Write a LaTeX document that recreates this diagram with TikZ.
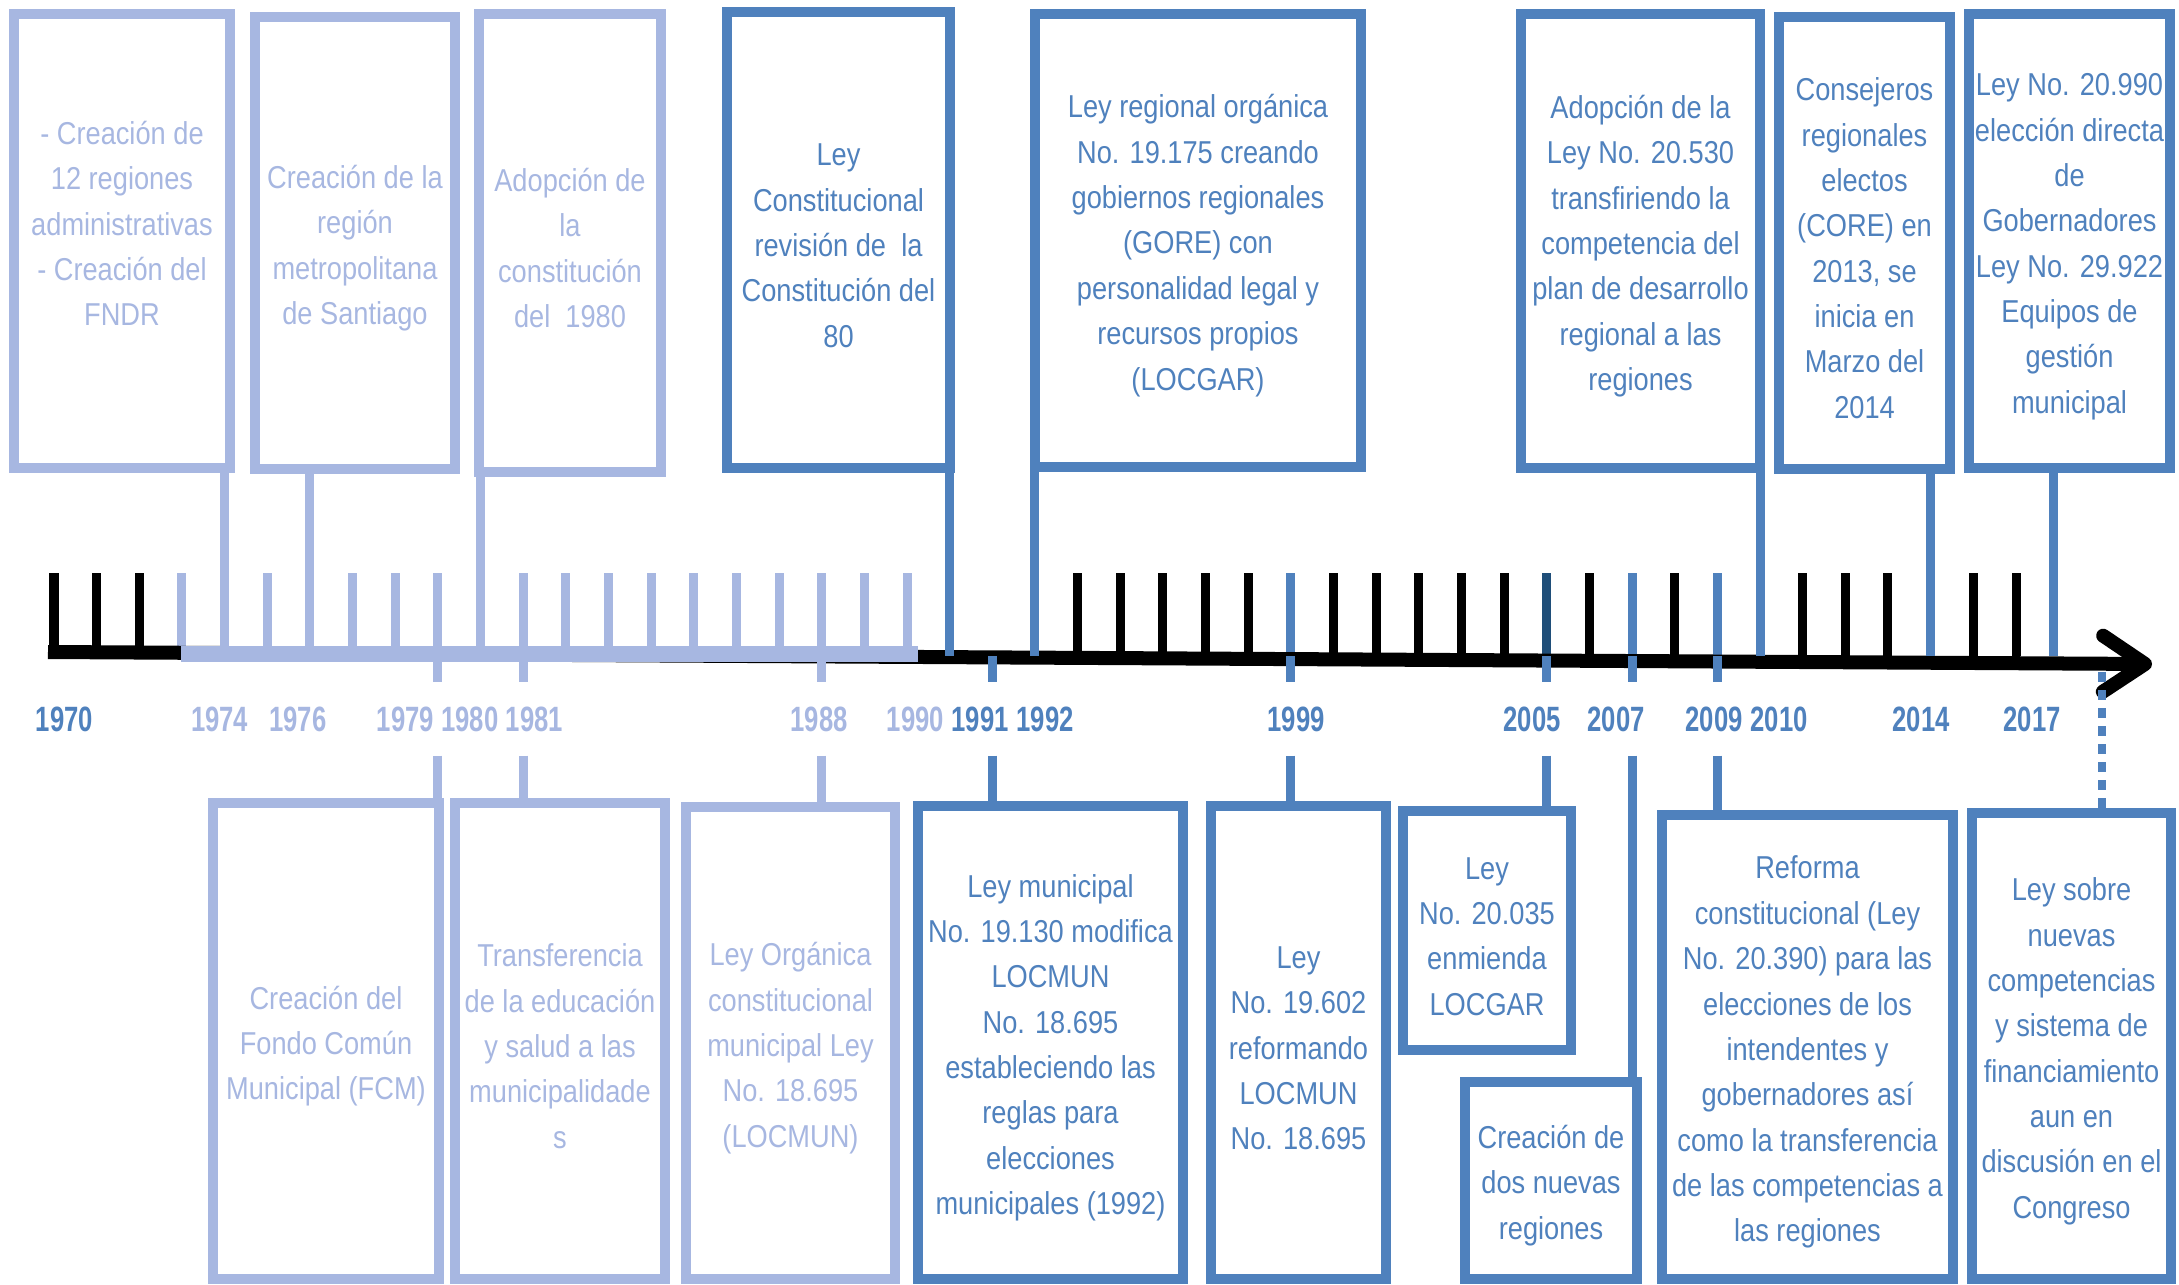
\documentclass[tikz,border=0pt]{standalone}
\usepackage{fontspec}
\setmainfont{Liberation Sans}[FakeStretch=0.86]
\newfontfamily\yearfont{Liberation Sans}[FakeStretch=0.73]
\usetikzlibrary{arrows.meta}
\definecolor{lightev}{HTML}{A7B7E1}
\definecolor{darkev}{HTML}{4F81BD}
\definecolor{navyev}{HTML}{1F4E79}

\begin{document}
\begin{tikzpicture}[x=0.01cm,y=-0.01cm]
  \tikzset{evbox/.style={draw,line width=0.1cm,align=center,inner sep=0pt,font=\fontsize{9}{12.9}\selectfont},
           oldev/.style={evbox,draw=lightev,text=lightev},
           newev/.style={evbox,draw=darkev,text=darkev},
           tk/.style={line width=0.09cm},
           yearlbl/.style={font=\yearfont\bfseries\fontsize{10}{11}\selectfont,inner xsep=0pt,inner ysep=0.235cm,text height=0.25cm,text depth=0pt}}
  \newcommand\evbox[7]{\node[#6,minimum width={(#3-#1-10)*0.01cm},minimum height={(#4-#2-10)*0.01cm}] (#5) at ({(#1+#3)/2},{(#2+#4)/2}) {\rule{0pt}{9.5pt}#7};}
  \useasboundingbox (0,0) rectangle (2179,1285);

  % ticks above the axis
  \foreach \i in {0,1,2,24,25,26,27,28,30,31,32,33,34,36,38,41,42,43,45}
    \draw[tk] ({54+42.65*\i},573) -- ({54+42.65*\i},656);
  \draw[tk] (2016,573) -- (2016,656);
  \foreach \i in {3,...,20}
    \draw[tk,lightev] ({54+42.65*\i},573) -- ({54+42.65*\i},656);
  \foreach \i in {29,37,39}
    \draw[tk,darkev] ({54+42.65*\i},573) -- ({54+42.65*\i},656);
  \draw[tk,navyev] ({54+42.65*35},573) -- ({54+42.65*35},656);

  % axis
  \draw[line width=0.14cm,-{Straight Barb[round,length=0.42cm,width=0.56cm]}] (48,652) -- (2152,664);
  \draw[lightev,line width=0.16cm] (181,654) -- (918,654);

  \foreach \nm/\i in {1974/4,1976/6,1979/9,1980/10,1981/11,1988/18,1990/21,1991/22,1992/23,
                      1999/29,2005/35,2007/37,2009/39,2010/40,2014/44}
    \coordinate (t\nm) at ({54+42.65*\i},656);
  \coordinate (t2017) at (2053,656);
  \coordinate (tnext) at (2102,672);

  % years
  \foreach \yr/\xx/\cl in {1970/64.5/darkev,1974/219.6/lightev,1976/298/lightev,1979/405.5/lightev,
                           1980/470/lightev,1981/534.5/lightev,1988/819/lightev,1990/915.5/lightev,
                           1991/980/darkev,1992/1045/darkev,1999/1296/darkev,2005/1532/darkev,
                           2007/1616/darkev,2009/1714/darkev,2010/1779/darkev,2014/1921/darkev,2017/2032/darkev}
    \node[yearlbl,text=\cl] (y\yr) at (\xx,719) {\yr};

  % boxes above
  \evbox{9}{9}{235}{473}{b1974}{oldev}{- Creación de\\12 regiones\\administrativas\\- Creación del\\FNDR\\\mbox{}}
  \evbox{250}{12}{460}{474}{b1976}{oldev}{Creación de la\\región\\metropolitana\\de Santiago}
  \evbox{474}{9}{666}{477}{b1980}{oldev}{Adopción de\\la\\constitución\\del \ 1980}
  \evbox{722}{7}{955}{473}{b1990}{newev}{Ley\\Constitucional\\revisión de \ la\\Constitución del\\80}
  \evbox{1030}{9}{1366}{472}{b1992}{newev}{Ley regional orgánica\\No. 19.175 creando\\gobiernos regionales\\(GORE) con\\personalidad legal y\\recursos propios\\(LOCGAR)}
  \evbox{1516}{9}{1765}{473}{b2010}{newev}{Adopción de la\\Ley No. 20.530\\transfiriendo la\\competencia del\\plan de desarrollo\\regional a las\\regiones}
  \evbox{1774}{12}{1955}{474}{b2014}{newev}{Consejeros\\regionales\\electos\\(CORE) en\\2013, se\\inicia en\\Marzo del\\2014}
  \evbox{1964}{9}{2175}{473}{b2017}{newev}{Ley No. 20.990\\elección directa\\de\\Gobernadores\\Ley No. 29.922\\Equipos de\\gestión\\municipal}

  % boxes below
  \evbox{208}{798}{444}{1284}{c1979}{oldev}{Creación del\\Fondo Común\\Municipal (FCM)}
  \evbox{450}{798}{670}{1284}{c1981}{oldev}{Transferencia\\de la educación\\y salud a las\\municipalidade\\s}
  \evbox{681}{802}{900}{1284}{c1988}{oldev}{Ley Orgánica\\constitucional\\municipal Ley\\No. 18.695\\(LOCMUN)}
  \evbox{913}{801}{1188}{1284}{c1991}{newev}{Ley municipal\\No. 19.130 modifica\\LOCMUN\\No. 18.695\\estableciendo las\\reglas para\\elecciones\\municipales (1992)}
  \evbox{1206}{801}{1391}{1284}{c1999}{newev}{Ley\\No. 19.602\\reformando\\LOCMUN\\No. 18.695}
  \evbox{1398}{806}{1576}{1055}{c2005}{newev}{Ley\\No. 20.035\\enmienda\\LOCGAR}
  \evbox{1460}{1077}{1642}{1284}{c2007}{newev}{Creación de\\dos nuevas\\regiones}
  \evbox{1657}{810}{1958}{1284}{c2009}{newev}{Reforma\\constitucional (Ley\\No. 20.390) para las\\elecciones de los\\intendentes y\\gobernadores así\\como la transferencia\\de las competencias a\\las regiones}
  \evbox{1967}{808}{2176}{1284}{cnext}{newev}{Ley sobre\\nuevas\\competencias\\y sistema de\\financiamiento\\aun en\\discusión en el\\Congreso}

  % connectors up
  \foreach \nm in {1974,1976,1980}
    \draw[tk,lightev] (b\nm.south -| t\nm) -- (t\nm);
  \foreach \nm in {1990,1992,2010,2014,2017}
    \draw[tk,darkev] (b\nm.south -| t\nm) -- (t\nm);

  % connectors down
  \foreach \nm in {1979,1981,1988}
    \draw[tk,lightev] (t\nm) -- (t\nm |- y\nm.north) (t\nm |- y\nm.south) -- (t\nm |- c\nm.north);
  \foreach \nm in {1991,1999,2005,2007,2009}
    \draw[tk,darkev] (t\nm) -- (t\nm |- y\nm.north) (t\nm |- y\nm.south) -- (t\nm |- c\nm.north);
  \draw[darkev,line width=0.08cm,dash pattern=on 0.1cm off 0.08cm] (tnext) -- (tnext |- cnext.north);
\end{tikzpicture}
\end{document}
